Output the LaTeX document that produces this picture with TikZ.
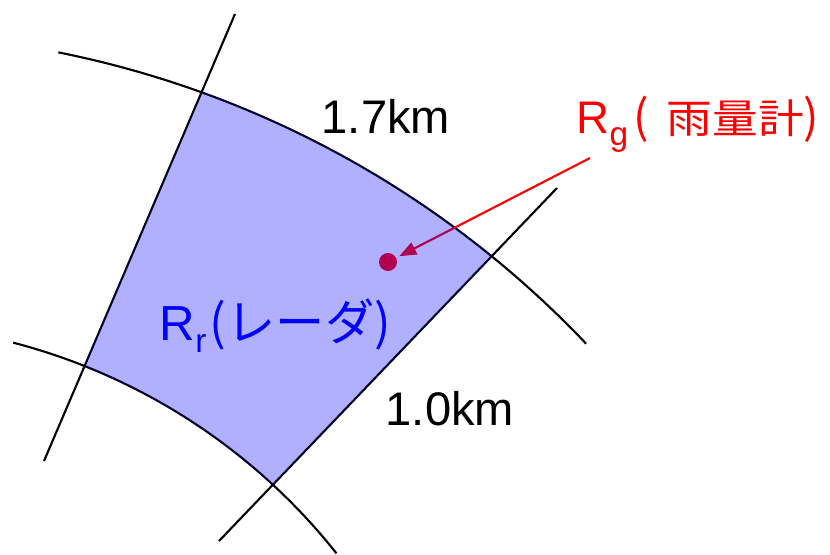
\documentclass[tikz,border=0pt]{standalone}
\usepackage{fontspec}
\setmainfont{Liberation Sans}
\newfontfamily\cjk{Noto Sans CJK JP}
\usetikzlibrary{arrows.meta}
\newcommand{\lowsub}[1]{\raisebox{-3.6pt}{\fontsize{9.5}{10}\selectfont #1}}

\begin{document}
\begin{tikzpicture}[x=0.01cm, y=-0.01cm,
  gridline/.style={line width=0.6pt, black},
  cell/.style={fill=blue, fill opacity=0.31},
  distlabel/.style={inner sep=0pt, anchor=base west, font=\fontsize{13.4}{15}\selectfont},
  gauge/.style={circle, fill=red, inner sep=0pt, minimum size=0.18cm},
  arr/.style={-{Triangle[length=0.17cm, width=0.13cm]}, line width=0.6pt, red}
]
  \useasboundingbox (0,0) rectangle (830,554);

  \draw[gridline] plot[domain=-78.7:-43.5, samples=60] ({-137+997*cos(\x)}, {1030+997*sin(\x)});
  \draw[gridline] plot[domain=-75.4:-38.4, samples=60] ({-140+608*cos(\x)}, {931+608*sin(\x)});
  \draw[gridline] (235,14) -- (44,461);
  \draw[gridline] (557,188) -- (219,541);

  \node[gauge] (gauge) at (388,262) {};
  \coordinate (tail) at (590,158);
  \draw[arr, shorten >=0.03cm] (tail) -- (gauge);

  \fill[cell] plot[domain=-70.1:-50.9, samples=40] ({-137+997*cos(\x)}, {1030+997*sin(\x)})
    -- plot[domain=-47.27:-68.34, samples=40] ({-140+608*cos(\x)}, {931+608*sin(\x)}) -- cycle;

  \node[distlabel] (toplen) at (321,133) {1.7km};
  \node[distlabel] (sidelen) at (385,425) {1.0km};
  \node[distlabel, text=blue, font=\fontsize{14}{16}\selectfont] (radar) at (159,340) {R\lowsub{r}{\cjk \hspace{1pt}(レーダ)}};
  \node[distlabel, text=red, font=\fontsize{13}{15}\selectfont] (gaugetext) at (576,133)
    {R\lowsub{g}{\cjk \hspace{1.5pt}(\hspace{5pt}\scalebox{1}[0.88]{雨量計})}};
\end{tikzpicture}
\end{document}
